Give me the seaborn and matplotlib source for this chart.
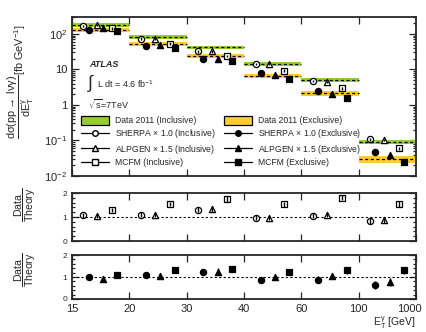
import numpy as np
import pandas as pd
import matplotlib
matplotlib.use("Agg")
import matplotlib.pyplot as plt
from matplotlib.patches import Patch
from matplotlib.lines import Line2D
from matplotlib.ticker import LogLocator, MultipleLocator, NullFormatter
import seaborn as sns

# bins of photon E_T (GeV), drawn with equal width
bin_edges = ["15", "20", "30", "40", "60", "100", "1000"]

# measured cross sections [fb/GeV]
data_incl = [183, 81, 42, 14.0, 5.0, 0.091]
data_excl = [132, 52, 24, 6.7, 2.1, 0.030]
band_incl = [0.13, 0.12, 0.12, 0.12, 0.13, 0.14]   # relative half-width
band_excl = [0.13, 0.12, 0.12, 0.13, 0.14, 0.22]

# predictions in the top panel
sherpa_incl = [169, 74, 32, 14.4, 4.8, 0.107]
alpgen_incl = [176, 74, 32, 14.6, 4.5, 0.103]
mcfm_incl = [142, 53, 24, 9.2, 2.9, 0.060]
sherpa_excl = [129, 47, 19.4, 7.9, 2.4, 0.047]
alpgen_excl = [142, 50, 19.2, 6.8, 2.0, 0.038]
mcfm_excl = [122, 40, 17.6, 5.5, 1.6, 0.025]

# data / theory ratios
ratio_sherpa_incl = [1.08, 1.10, 1.30, 0.97, 1.05, 0.85]
ratio_alpgen_incl = [1.04, 1.10, 1.33, 0.96, 1.10, 0.88]
ratio_mcfm_incl = [1.29, 1.54, 1.75, 1.53, 1.80, 1.53]
ratio_sherpa_excl = [1.02, 1.10, 1.24, 0.85, 0.88, 0.63]
ratio_alpgen_excl = [0.93, 1.03, 1.25, 0.98, 1.05, 0.77]
ratio_mcfm_excl = [1.08, 1.30, 1.36, 1.22, 1.30, 1.30]
ratio_err_incl = [0.10, 0.10, 0.11, 0.10, 0.11, 0.12]
ratio_err_excl = [0.12, 0.12, 0.14, 0.13, 0.15, 0.17]

green = "#99cc33"
orange = "#ffcc33"

sns.set_style("ticks")
plt.rcParams["font.family"] = ["Liberation Sans", "DejaVu Sans"]
plt.rcParams["mathtext.fontset"] = "custom"
plt.rcParams["mathtext.rm"] = "Liberation Sans"
plt.rcParams["mathtext.it"] = "Liberation Sans:italic"
plt.rcParams["mathtext.default"] = "regular"

fig = plt.figure(figsize=(4.27, 3.32), dpi=100)
ax = fig.add_axes([0.1686, 0.470, 0.806, 0.479])
ax_r1 = fig.add_axes([0.1686, 0.274, 0.806, 0.1446])
ax_r2 = fig.add_axes([0.1686, 0.0994, 0.806, 0.1325])

nb = len(data_incl)
xb = np.arange(nb)

# series: (name, values, ratios, marker, offset inside the bin)
incl_series = [
    ("SHERPA", sherpa_incl, ratio_sherpa_incl, "o", 0.20),
    ("ALPGEN", alpgen_incl, ratio_alpgen_incl, "^", 0.44),
    ("MCFM", mcfm_incl, ratio_mcfm_incl, "s", 0.70),
]
excl_series = [
    ("SHERPA", sherpa_excl, ratio_sherpa_excl, "o", 0.29),
    ("ALPGEN", alpgen_excl, ratio_alpgen_excl, "^", 0.54),
    ("MCFM", mcfm_excl, ratio_mcfm_excl, "s", 0.79),
]

# data bands
for vals, rel, col in [(data_incl, band_incl, green), (data_excl, band_excl, orange)]:
    vals = np.array(vals)
    lo = vals * (1 - np.array(rel))
    hi = vals * (1 + np.array(rel))
    ax.bar(xb, hi - lo, bottom=lo, width=1.0, align="edge", color=col, linewidth=0, zorder=1)
    ax.hlines(vals, xb, xb + 1, colors="black", linestyles=(0, (2.5, 2)), linewidth=0.9, zorder=2)


def draw_points(axis, xs, ys, yerr, marker, filled):
    df = pd.DataFrame({"x": xs, "y": ys})
    sns.scatterplot(data=df, x="x", y="y", ax=axis, marker=marker, s=20,
                    color="black" if filled else "white", edgecolor="black",
                    linewidth=0.9, zorder=4, legend=False)
    axis.errorbar(xs, ys, yerr=yerr, fmt="none", ecolor="black", elinewidth=1.0, capsize=0, zorder=5)


for series, filled, rax, rerr in [(incl_series, False, ax_r1, ratio_err_incl),
                                   (excl_series, True, ax_r2, ratio_err_excl)]:
    for name, vals, ratios, marker, off in series:
        vals = np.array(vals)
        draw_points(ax, xb + off, vals, vals * 0.08, marker, filled)
        draw_points(rax, xb + off, ratios, rerr, marker, filled)

# main panel axes
ax.set_yscale("log")
ax.set_ylim(0.01, 300)
ax.set_xlim(0, nb)
ax.set_xlabel("")
ax.set_ylabel(r"$\dfrac{d\sigma(pp\rightarrow\ l\nu\gamma)}{dE_{T}^{\gamma}}$[fb GeV$^{-1}$]",
              fontsize=7.8)
ax.yaxis.set_label_coords(-0.105, 0.59)
ax.yaxis.set_minor_locator(LogLocator(base=10, subs=np.arange(2, 10), numticks=10))
ax.yaxis.set_minor_formatter(NullFormatter())
ax.set_yticks([0.01, 0.1, 1, 10, 100])
ax.set_yticklabels([r"10$^{-2}$", r"10$^{-1}$", "1", "10", r"10$^{2}$"])
ax.set_xticks(xb)
ax.set_xticklabels([])

for rax, ly in ((ax_r1, 0.75), (ax_r2, 0.66)):
    rax.set_xlim(0, nb)
    rax.set_ylim(0, 2)
    rax.axhline(1, color="black", linestyle=(0, (2, 2)), linewidth=0.8, zorder=2)
    rax.set_yticks([0, 1, 2])
    rax.yaxis.set_minor_locator(MultipleLocator(0.2))
    rax.set_xticks(np.arange(nb + 1))
    rax.set_ylabel(r"$\dfrac{Data}{Theory}$", fontsize=7.6)
    rax.set_xlabel("")
    rax.tick_params(axis="y", which="major", labelsize=6)
    rax.yaxis.set_label_coords(-0.1, ly)

ax_r1.set_xticklabels([])
ax_r2.set_xticklabels(bin_edges[:-1] + [""], fontsize=8)
ax_r2.annotate(bin_edges[-1], xy=(nb, 0), xycoords=("data", "axes fraction"),
               xytext=(-5, -3.5), textcoords="offset points", ha="center", va="top", fontsize=8)

fig.text(0.974, 0.004, r"E$_{T}^{\gamma}$ [GeV]", ha="right", va="bottom", fontsize=7.5)

for a in (ax, ax_r1, ax_r2):
    for sp in a.spines.values():
        sp.set_linewidth(1.3)
        sp.set_visible(True)
    a.tick_params(which="both", direction="in", top=True, right=True, width=0.9)
    a.tick_params(which="major", length=5)
    a.tick_params(which="minor", length=2.5)
ax.tick_params(axis="y", which="major", labelsize=8)
ax.tick_params(axis="x", which="minor", bottom=False, top=False)

# annotations
ax.text(0.05, 0.70, "ATLAS", transform=ax.transAxes, fontsize=6.5,
        fontweight="bold", fontstyle="italic", va="center")
ax.text(0.045, 0.585, r"$\int$", transform=ax.transAxes, fontsize=13, va="center")
ax.text(0.074, 0.575, r"L dt = 4.6 fb$^{-1}$", transform=ax.transAxes, fontsize=6.5, va="center")
ax.text(0.046, 0.45, r"$\sqrt{s}$=7TeV", transform=ax.transAxes, fontsize=6.5, va="center")

# legend
lw = 0.9
handles = [
    Patch(facecolor=green, edgecolor="black", linewidth=0.9),
    Line2D([], [], color="black", lw=lw, marker="o", mfc="white", mec="black", ms=4),
    Line2D([], [], color="black", lw=lw, marker="^", mfc="white", mec="black", ms=4),
    Line2D([], [], color="black", lw=lw, marker="s", mfc="white", mec="black", ms=4),
    Patch(facecolor=orange, edgecolor="black", linewidth=0.9),
    Line2D([], [], color="black", lw=lw, marker="o", mfc="black", mec="black", ms=4),
    Line2D([], [], color="black", lw=lw, marker="^", mfc="black", mec="black", ms=4),
    Line2D([], [], color="black", lw=lw, marker="s", mfc="black", mec="black", ms=4),
]
labels = [
    "Data 2011 (Inclusive)",
    r"SHERPA $\times$ 1.0 (Inclusive)",
    r"ALPGEN $\times$ 1.5 (Inclusive)",
    "MCFM (Inclusive)",
    "Data 2011 (Exclusive)",
    r"SHERPA $\times$ 1.0 (Exclusive)",
    r"ALPGEN $\times$ 1.5 (Exclusive)",
    "MCFM (Exclusive)",
]
ax.legend(handles, labels, ncol=2, loc="upper left", bbox_to_anchor=(0.026, 0.378),
          frameon=False, fontsize=6.2, handlelength=3.3, handleheight=1.2,
          handletextpad=0.7, columnspacing=0.9, labelspacing=0.26, borderpad=0,
          borderaxespad=0)

plt.savefig("out.png", dpi=100)
plt.close()
